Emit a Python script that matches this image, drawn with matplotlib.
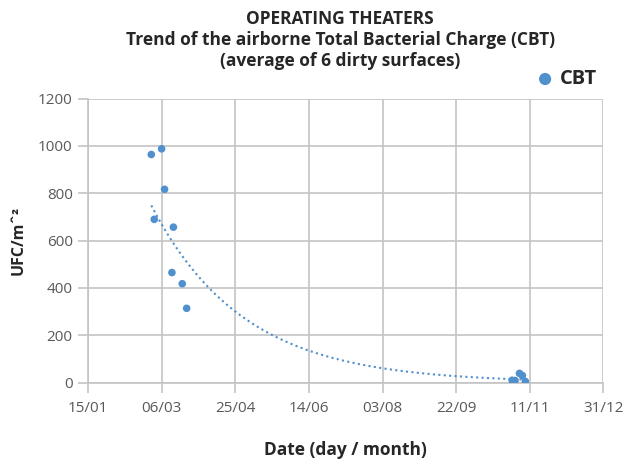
import numpy as np
import matplotlib
matplotlib.use("Agg")
import matplotlib.pyplot as plt
import matplotlib.dates as mdates
import pandas as pd

plt.rcParams['font.family'] = ['Open Sans', 'DejaVu Sans']

# Data
dates = ["2021-02-27", "2021-03-06", "2021-03-08", "2021-03-01", "2021-03-14",
         "2021-03-13", "2021-03-20", "2021-03-23",
         "2021-10-30", "2021-11-01", "2021-11-04", "2021-11-06", "2021-11-08"]
cbt = [964, 988, 817, 690, 657, 465, 418, 314, 10, 9, 39, 30, 5]

tick_dates = ["2021-01-15", "2021-03-06", "2021-04-25", "2021-06-14",
              "2021-08-03", "2021-09-22", "2021-11-11", "2021-12-31"]
y_ticks = [0, 200, 400, 600, 800, 1000, 1200]

title = "OPERATING THEATERS\nTrend of the airborne Total Bacterial Charge (CBT)\n(average of 6 dirty surfaces)"
series_name = "CBT"

x = mdates.date2num(pd.to_datetime(dates))
y = np.array(cbt, dtype=float)
xt = mdates.date2num(pd.to_datetime(tick_dates))

# exponential trendline (log-linear fit, as in spreadsheet trendlines)
b, a = np.polyfit(x, np.log(y), 1)
xf = np.linspace(x.min(), x.max(), 300)
yf = np.exp(a + b * xf)

blue = "#5090cc"
grid_c = "#c4c4c4"
tick_c = "#595959"

fig = plt.figure(figsize=(6.24, 4.61), dpi=100)
ax = fig.add_axes([0.141, 0.170, 0.826, 0.616])

ax.plot(xf, yf, linestyle=(0, (1, 1.6)), color=blue, linewidth=1.5, zorder=2)
ax.scatter(x, y, s=30, color=blue, zorder=3, label=series_name, edgecolors='none')

ax.set_xlim(xt[0], xt[-1])
ax.set_ylim(0, 1200)
ax.set_xticks(xt)
ax.set_xticklabels([pd.to_datetime(d).strftime("%d/%m") for d in tick_dates])
ax.set_yticks(y_ticks)

ax.grid(True, color=grid_c, linewidth=1.2, zorder=0)
for s in ['top', 'right']:
    ax.spines[s].set_visible(False)
for s in ['left', 'bottom']:
    ax.spines[s].set_color(grid_c)
    ax.spines[s].set_linewidth(1.2)
ax.tick_params(axis='both', colors=grid_c, labelcolor=tick_c, labelsize=11,
               length=7, width=1.2, direction='out')
ax.tick_params(axis='x', pad=6)
ax.tick_params(axis='y', pad=4)

ax.set_xlabel("Date (day / month)", fontsize=12.5, fontweight='bold', color="#262626", labelpad=18)
ax.set_ylabel("UFC/m\u02c6\u00b2", fontsize=11.5, fontweight='bold', color="#262626", labelpad=8)

fig.text(0.545, 0.978, title, ha='center', va='top', fontsize=12.5, fontweight='bold',
         color="#262626", linespacing=1.2)

leg = fig.legend(loc='center left', bbox_to_anchor=(0.83, 0.828), frameon=False,
                 prop={'weight': 'bold', 'size': 14.5}, handletextpad=0.3,
                 markerscale=1.6, handlelength=0.9)
for t in leg.get_texts():
    t.set_color("#262626")

fig.savefig("out.png", dpi=100)
